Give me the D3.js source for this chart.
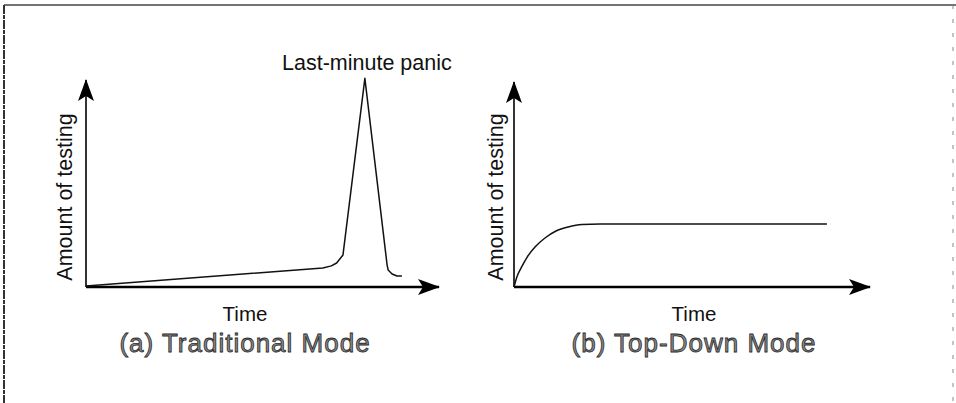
<!DOCTYPE html>
<html>
<head>
<meta charset="utf-8">
<script src="https://cdn.jsdelivr.net/npm/d3@7"></script>
<style>
  html, body { margin: 0; padding: 0; background: #fff; }
  svg text { font-family: "Liberation Sans", Arial, Helvetica, sans-serif; }
</style>
</head>
<body>
<div id="chart"></div>
<script>
// time on x (0..100), amount of testing on y (0..100)
let tradTime   = [0, 67.1, 69.5, 71.0, 72.8, 79.0, 85.3, 85.6, 86.7, 88.1, 89.5];
let tradAmount = [0.5, 9.2, 10.2, 11.6, 15.5, 100.8, 10.6, 8.2, 6.3, 5.3, 5.3];

let topTime   = [0, 0.8, 2.0, 3.7, 5.9, 8.7, 11.8, 15.2, 19.1, 24.2, 87.9];
let topAmount = [0, 4.9, 9.3, 14.6, 19.5, 23.9, 27.3, 29.3, 30.5, 30.7, 30.7];

let captions = ["(a) Traditional Mode", "(b) Top-Down Mode"];
let xLabel = "Time";
let yLabel = "Amount of testing";
let peakNote = "Last-minute panic";

const W = 956, H = 403;

let svg = d3.select("#chart").append("svg")
  .attr("width", W)
  .attr("height", H);

// page frame (scanned page edges)
svg.append("line").attr("x1", 4).attr("y1", 5).attr("x2", W).attr("y2", 5)
  .attr("stroke", "#444").attr("stroke-width", 1.3);
svg.append("line").attr("x1", 4).attr("y1", 5).attr("x2", 4).attr("y2", H)
  .attr("stroke", "#333").attr("stroke-width", 2).attr("stroke-dasharray", "9,1,4,1");
svg.append("line").attr("x1", 953).attr("y1", 5).attr("x2", 953).attr("y2", H)
  .attr("stroke", "#888").attr("stroke-width", 1).attr("stroke-dasharray", "4,10");

let defs = svg.append("defs");
defs.append("marker")
  .attr("id", "arrow")
  .attr("viewBox", "0 0 22 16")
  .attr("refX", 21)
  .attr("refY", 8)
  .attr("markerWidth", 22)
  .attr("markerHeight", 16)
  .attr("markerUnits", "userSpaceOnUse")
  .attr("orient", "auto")
  .append("path")
  .attr("d", "M0,0 L22,8 L0,16 L5,8 Z")
  .attr("fill", "#000");

let panels = [
  {time: tradTime, amount: tradAmount, caption: captions[0], x0: 86, x1: 439, y0: 287, y1: 80, ylx: 72, cx: 245, peak: true},
  {time: topTime, amount: topAmount, caption: captions[1], x0: 514, x1: 870, y0: 287, y1: 82, ylx: 503, cx: 694, peak: false}
];

panels.forEach(function(p) {
  let x = d3.scaleLinear().domain([0, 100]).range([p.x0, p.x1]);
  let y = d3.scaleLinear().domain([0, 100]).range([p.y0, p.y1]);
  let g = svg.append("g");

  // axes with arrowheads
  g.append("line")
    .attr("x1", x(0)).attr("y1", y(0))
    .attr("x2", x(100)).attr("y2", y(0))
    .attr("stroke", "#000").attr("stroke-width", 2.5)
    .attr("marker-end", "url(#arrow)");
  g.append("line")
    .attr("x1", x(0)).attr("y1", y(0))
    .attr("x2", x(0)).attr("y2", y(100))
    .attr("stroke", "#000").attr("stroke-width", 1.6)
    .attr("marker-end", "url(#arrow)");

  let pts = p.time.map(function(t, i) { return [t, p.amount[i]]; });
  let line = d3.line()
    .x(function(d) { return x(d[0]); })
    .y(function(d) { return y(d[1]); })
    .curve(p.peak ? d3.curveLinear : d3.curveMonotoneX);

  g.append("path")
    .datum(pts)
    .attr("d", line)
    .attr("fill", "none")
    .attr("stroke", "#111")
    .attr("stroke-width", 1.5)
    .attr("stroke-linejoin", "round");

  g.append("text")
    .attr("transform", "translate(" + p.ylx + "," + ((y(0) + 105) / 2 + 1) + ") rotate(-90)")
    .attr("text-anchor", "middle")
    .attr("font-size", 21.5)
    .attr("fill", "#111")
    .text(yLabel);

  g.append("text")
    .attr("x", p.cx)
    .attr("y", 321)
    .attr("text-anchor", "middle")
    .attr("font-size", 20.5)
    .attr("fill", "#111")
    .text(xLabel);

  g.append("text")
    .attr("x", p.cx)
    .attr("y", 352)
    .attr("text-anchor", "middle")
    .attr("font-size", 26)
    .attr("letter-spacing", 1)
    .attr("fill", "#888")
    .attr("stroke", "#2a2a2a")
    .attr("stroke-width", 0.8)
    .text(p.caption);

  if (p.peak) {
    let iMax = d3.maxIndex(p.amount);
    g.append("text")
      .attr("x", x(p.time[iMax]) + 2)
      .attr("y", y(p.amount[iMax]) - 8)
      .attr("text-anchor", "middle")
      .attr("font-size", 21.5)
      .attr("fill", "#111")
      .text(peakNote);
  }
});
</script>
</body>
</html>
